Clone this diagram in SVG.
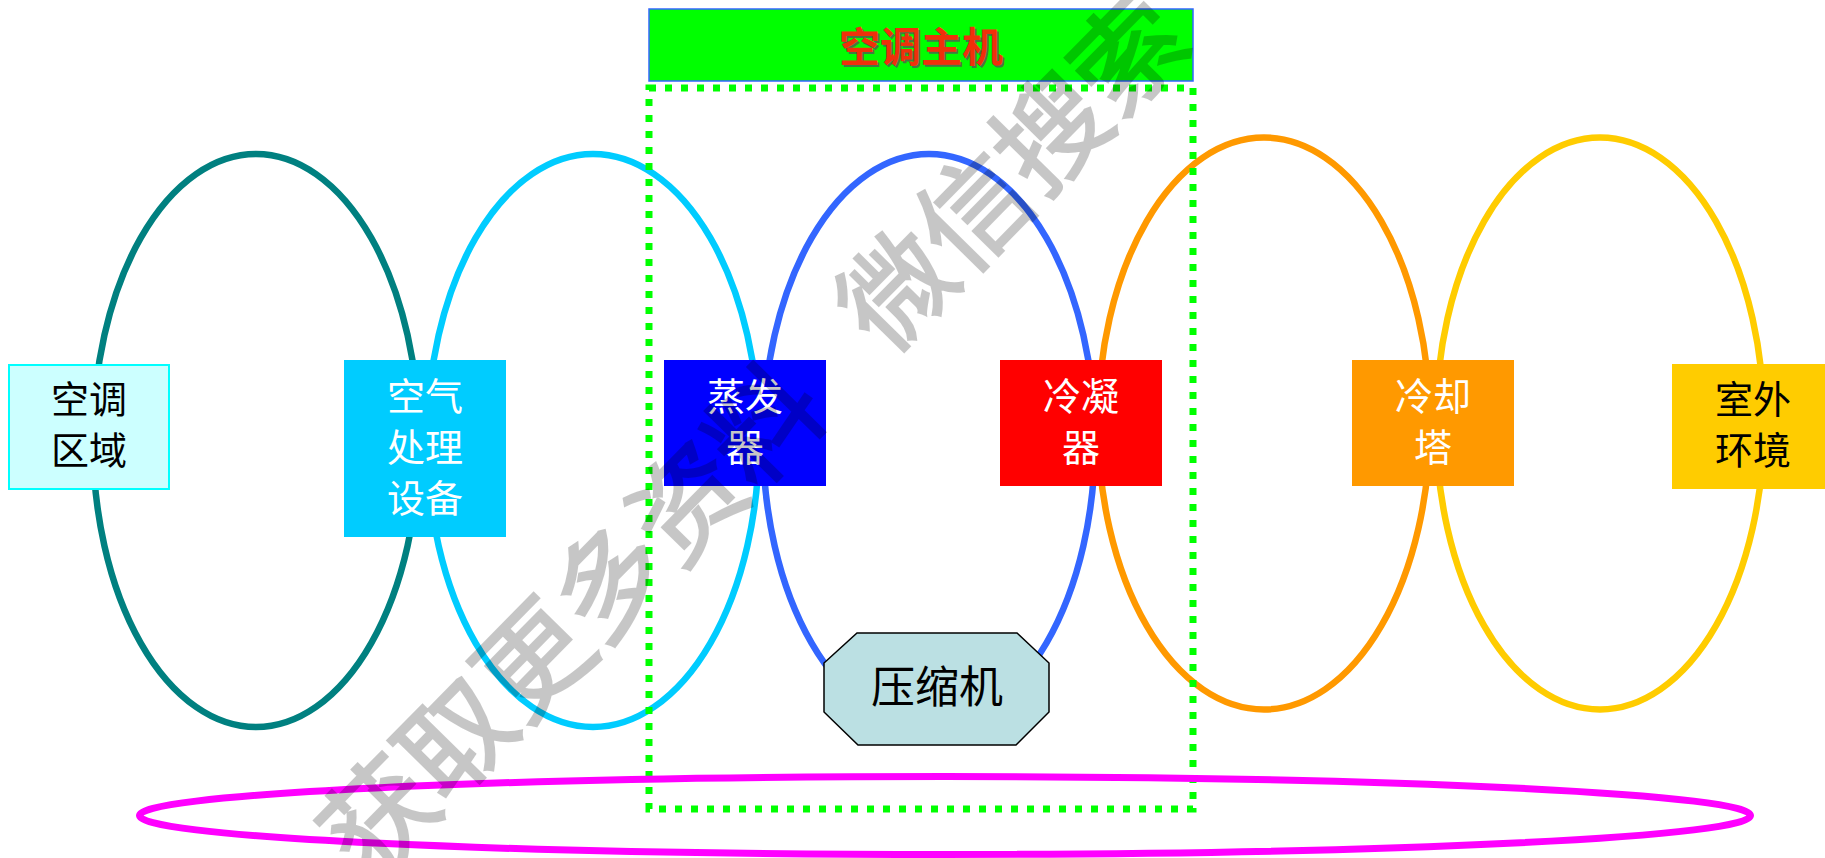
<svg xmlns="http://www.w3.org/2000/svg" width="1825" height="858" viewBox="0 0 1825 858">
<style>
.loop{fill:none;stroke-width:6.5}
.lbl{font-family:"Liberation Serif","Noto Sans CJK SC",serif;font-size:38px;text-anchor:middle;dominant-baseline:central}
.w{fill:#FFFFFF}
.k{fill:#000000}
.wm{font-family:"Noto Sans CJK SC",sans-serif;font-size:110px;fill:#000000;stroke:#000000;stroke-width:2.5;opacity:0.22}
</style>
<rect width="1825" height="858" fill="#FFFFFF"/>
<g id="connectors">
<ellipse class="loop" cx="256" cy="440.5" rx="163" ry="286.5" stroke="#008080"/>
<ellipse class="loop" cx="593" cy="440.5" rx="166" ry="286.5" stroke="#00CCFF"/>
<ellipse class="loop" cx="929" cy="440.5" rx="166" ry="286.5" stroke="#3366FF"/>
<ellipse class="loop" cx="1264" cy="423.5" rx="166" ry="286" stroke="#FF9900"/>
<ellipse class="loop" cx="1600" cy="423.5" rx="164" ry="286" stroke="#FFCC00"/>
</g>
<g id="main-unit-frame">
<rect x="649" y="88" width="544" height="721" fill="none" stroke="#00FF00" stroke-width="7" stroke-dasharray="7 9"/>
</g>
<g id="system-loop">
<ellipse cx="945" cy="815.5" rx="805.5" ry="39" fill="none" stroke="#FF00FF" stroke-width="7"/>
</g>
<g id="title">
<rect x="649" y="9" width="544" height="72" fill="#00FF00" stroke="#3366FF" stroke-width="1.5"/>
<text x="923" y="46" font-family="'Noto Sans CJK SC',sans-serif" font-size="41" font-weight="bold" text-anchor="middle" dominant-baseline="central" fill="#555555" fill-opacity="0.8">空调主机</text>
<text x="921" y="44" font-family="'Noto Sans CJK SC',sans-serif" font-size="41" font-weight="bold" text-anchor="middle" dominant-baseline="central" fill="#F0300A">空调主机</text>
</g>
<g id="zone">
<rect x="9" y="365" width="160" height="124" fill="#CCFFFF" stroke="#00FFFF" stroke-width="2"/>
<text class="lbl k" x="89" y="400">空调</text>
<text class="lbl k" x="89" y="451">区域</text>
</g>
<g id="ahu">
<rect x="344" y="360" width="162" height="177" fill="#00CCFF"/>
<text class="lbl w" x="425" y="397">空气</text>
<text class="lbl w" x="425" y="448">处理</text>
<text class="lbl w" x="425" y="499">设备</text>
</g>
<g id="evaporator">
<rect x="664" y="360" width="162" height="126" fill="#0000FF"/>
<text class="lbl w" x="745" y="397">蒸发</text>
<text class="lbl w" x="745" y="448">器</text>
</g>
<g id="condenser">
<rect x="1000" y="360" width="162" height="126" fill="#FF0000"/>
<text class="lbl w" x="1081" y="397">冷凝</text>
<text class="lbl w" x="1081" y="448">器</text>
</g>
<g id="cooling-tower">
<rect x="1352" y="360" width="162" height="126" fill="#FF9900"/>
<text class="lbl w" x="1433" y="397">冷却</text>
<text class="lbl w" x="1433" y="448">塔</text>
</g>
<g id="outdoor">
<rect x="1672" y="364" width="162" height="125" fill="#FFCC00"/>
<text class="lbl k" x="1753" y="400">室外</text>
<text class="lbl k" x="1753" y="451">环境</text>
</g>
<g id="compressor">
<polygon points="857,633 1017,633 1049,663 1049,712 1016,745 858,745 824,712 824,663" fill="#BBE0E3" stroke="#000000" stroke-width="1.5"/>
<text class="lbl k" x="937" y="688" style="font-size:44px">压缩机</text>
</g>
<g id="watermark">
<text class="wm" transform="translate(369,884) rotate(-45.5)">获取更多资料 <tspan dx="54">微信搜索</tspan></text>
</g>
</svg>
